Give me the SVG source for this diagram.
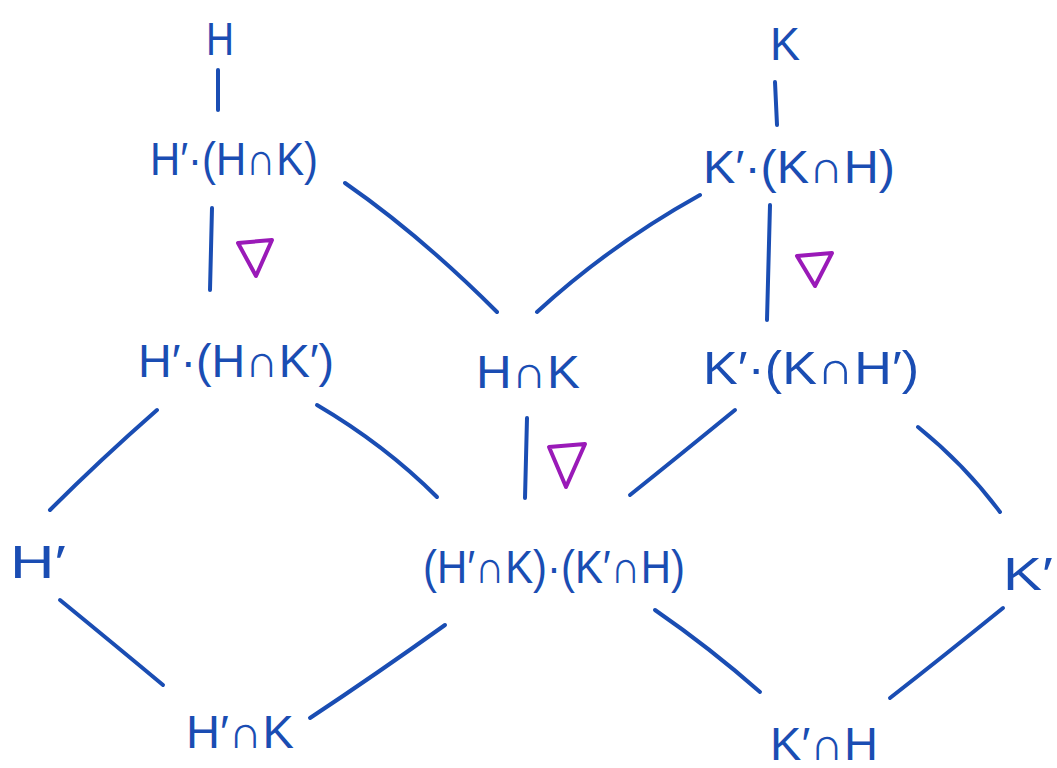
<svg xmlns="http://www.w3.org/2000/svg" width="1057" height="768" viewBox="0 0 1057 768">
<style>
.t{font-family:"Liberation Sans","DejaVu Sans",sans-serif;font-size:46px;fill:#1a4db3;text-anchor:start}
.e{fill:none;stroke:#1a4db3;stroke-width:4;stroke-linecap:round;stroke-linejoin:round}
.n{fill:none;stroke:#9a1ab8;stroke-width:4;stroke-linecap:round;stroke-linejoin:round}
</style>
<rect width="1057" height="768" fill="#ffffff"/>
<g id="connectors">
<path class="e" d="M218,70 L218,110"/>
<path class="e" d="M775,82 L777,125"/>
<path class="e" d="M212,208 L210,290"/>
<path class="e" d="M770,205 L767,320"/>
<path class="e" d="M345,183 Q420,235 497,312"/>
<path class="e" d="M700,195 Q610,245 537,312"/>
<path class="e" d="M527,418 L525,498"/>
<path class="e" d="M157,410 Q100,460 50,510"/>
<path class="e" d="M317,405 Q385,445 437,497"/>
<path class="e" d="M735,410 Q680,455 630,495"/>
<path class="e" d="M918,427 Q965,465 1000,512"/>
<path class="e" d="M60,600 Q115,645 163,685"/>
<path class="e" d="M445,625 Q375,675 310,718"/>
<path class="e" d="M655,610 Q710,648 760,692"/>
<path class="e" d="M1003,608 Q945,655 890,698"/>
</g>
<g id="normal-marks">
<path class="n" d="M238,243 L272,240 L256,276 Z"/>
<path class="n" d="M797,256 L832,253 L815,286 Z"/>
<path class="n" d="M549,447 L585,444 L566,487 Z"/>
</g>
<g id="node-H"><text class="t" x="206" y="55" textLength="28" lengthAdjust="spacingAndGlyphs">H</text></g>
<g id="node-K"><text class="t" x="770" y="60" textLength="30" lengthAdjust="spacingAndGlyphs">K</text></g>
<g id="node-HpHK"><text class="t" x="150" y="175" textLength="168" lengthAdjust="spacingAndGlyphs">H′·(H∩K)</text></g>
<g id="node-KpKH"><text class="t" x="703" y="183" textLength="192" lengthAdjust="spacingAndGlyphs">K′·(K∩H)</text></g>
<g id="node-HpHKp"><text class="t" x="138" y="377" textLength="196" lengthAdjust="spacingAndGlyphs">H′·(H∩K′)</text></g>
<g id="node-HK"><text class="t" x="476" y="388" textLength="104" lengthAdjust="spacingAndGlyphs">H∩K</text></g>
<g id="node-KpKHp"><text class="t" x="703" y="384" textLength="216" lengthAdjust="spacingAndGlyphs">K′·(K∩H′)</text></g>
<g id="node-Hp"><text class="t" x="10" y="578" textLength="56" lengthAdjust="spacingAndGlyphs">H′</text></g>
<g id="node-middle"><text class="t" x="423" y="583" textLength="262" lengthAdjust="spacingAndGlyphs">(H′∩K)·(K′∩H)</text></g>
<g id="node-Kp"><text class="t" x="1003" y="590" textLength="50" lengthAdjust="spacingAndGlyphs">K′</text></g>
<g id="node-HpK"><text class="t" x="186" y="748" textLength="108" lengthAdjust="spacingAndGlyphs">H′∩K</text></g>
<g id="node-KpH"><text class="t" x="770" y="760" textLength="108" lengthAdjust="spacingAndGlyphs">K′∩H</text></g>
</svg>
